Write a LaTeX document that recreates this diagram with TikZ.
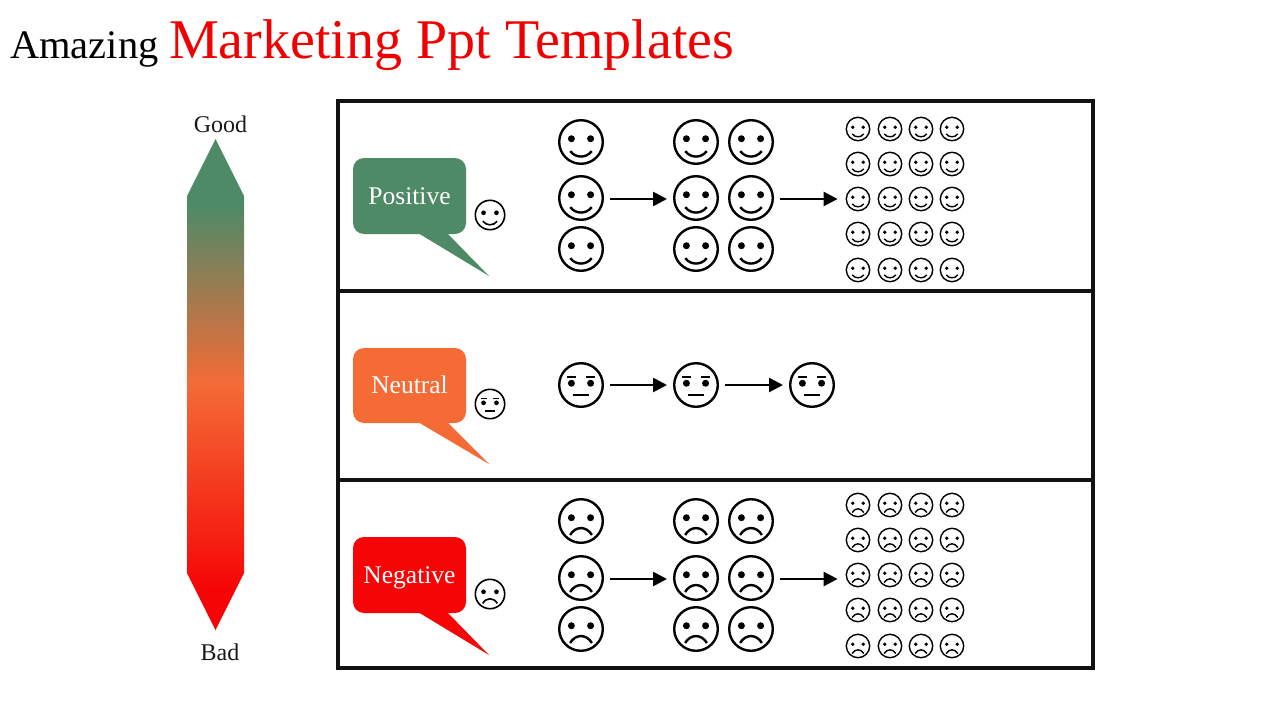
\documentclass[tikz,border=0pt]{standalone}
\usepackage{fontspec}
\setmainfont{Liberation Serif}
\usetikzlibrary{arrows.meta}
\definecolor{posgreen}{RGB}{79,138,102}
\definecolor{neuorange}{RGB}{244,107,54}
\definecolor{negred}{RGB}{245,5,5}
\definecolor{titlered}{RGB}{240,0,0}
\pgfdeclareverticalshading{goodbad}{100bp}{
  color(0bp)=(negred); color(29bp)=(negred); color(50bp)=(neuorange); color(68bp)=(posgreen); color(100bp)=(posgreen)}
\tikzset{
  framebox/.style={draw=black!93,line width=3.2pt,fill=none},
  bubblebox/.style={rounded corners=11pt,minimum width=113pt,text=white,font=\fontsize{25.5}{28}\selectfont,inner sep=0pt,anchor=center,text height=16pt,text depth=0pt},
  facering/.style={circle,draw=black,fill=white,inner sep=0pt},
  flow/.style={draw=black,line width=2.6pt,-{Triangle[length=14pt,width=14pt]},shorten <=6pt,shorten >=6pt},
  scalelabel/.style={font=\fontsize{24}{27}\selectfont,text=black!90,inner sep=0pt,anchor=base},
  titleblack/.style={font=\fontsize{40.5}{45}\selectfont,text=black,inner sep=0pt,anchor=base west},
  titlered/.style={font=\fontsize{56}{60}\selectfont,text=titlered,inner sep=0pt,anchor=base west}
}
% #1 name, #2 x, #3 y, #4 radius, #5 line width
\newcommand{\FaceBase}[5]{%
  \node[facering,line width=#5pt,minimum size={2*#4*1pt}] (#1) at (#2,#3) {};}
\newcommand{\SmileFace}[5]{%
  \FaceBase{#1}{#2}{#3}{#4}{#5}
  \begin{scope}[shift={(#1.center)},x=#4pt,y=-#4pt]
    \fill (-.44,-.15) circle (.16); \fill (.44,-.15) circle (.16);
    \draw[line width=#5pt] (-.49,.42) .. controls (-.25,.75) and (.25,.75) .. (.49,.42);
  \end{scope}}
\newcommand{\FrownFace}[5]{%
  \FaceBase{#1}{#2}{#3}{#4}{#5}
  \begin{scope}[shift={(#1.center)},x=#4pt,y=-#4pt]
    \fill (-.44,-.15) circle (.16); \fill (.44,-.15) circle (.16);
    \draw[line width=#5pt] (-.5,.64) .. controls (-.25,.22) and (.25,.22) .. (.5,.64);
  \end{scope}}
\newcommand{\FlatFace}[5]{%
  \FaceBase{#1}{#2}{#3}{#4}{#5}
  \begin{scope}[shift={(#1.center)},x=#4pt,y=-#4pt]
    \fill (-.44,-.08) circle (.16); \fill (.44,-.08) circle (.16);
    \draw[line width=#5pt] (-.64,-.38) -- (-.22,-.38) (.22,-.38) -- (.64,-.38) (-.35,.47) -- (.35,.47);
  \end{scope}}
\begin{document}
\begin{tikzpicture}[x=1pt,y=-1pt]
\useasboundingbox (0,0) rectangle (1280,720);
\fill[white] (0,0) rectangle (1280,720);
% title
\node[titleblack] (t1) at (10,58) {Amazing};
\node[titlered] (t2) at (169,58) {Marketing Ppt Templates};
% scale arrow
\path[shading=goodbad] (215.5,139) -- (244,196) -- (244,573) -- (215.5,630) -- (187,573) -- (187,196) -- cycle;
\node[scalelabel] (good) at (220.5,132) {Good};
\node[scalelabel] (bad) at (220,660) {Bad};
% frame
\draw[framebox] (338,101) rectangle (1093,668);
\draw[framebox] (338,291) -- (1093,291);
\draw[framebox] (338,480) -- (1093,480);
% bubbles
\fill[posgreen] (418,233) -- (489,276) -- (447,233) -- cycle;
\node[bubblebox,fill=posgreen,minimum height=76pt] (bpos) at (409.5,196) {Positive};
\fill[neuorange] (418,422) -- (489,464) -- (447,422) -- cycle;
\node[bubblebox,fill=neuorange,minimum height=75pt] (bneu) at (409.5,385.5) {Neutral};
\fill[negred] (418,612) -- (489,655) -- (447,612) -- cycle;
\node[bubblebox,fill=negred,minimum height=76pt] (bneg) at (409.5,575) {Negative};
% side faces
\SmileFace{sp}{490}{215}{14.7}{1.6}
\FlatFace{sn}{490}{404}{14.7}{1.6}
\FrownFace{sb}{490}{594}{14.7}{1.6}
% positive big
\SmileFace{pa1}{581}{142}{21.8}{2.4}
\SmileFace{pa2}{581}{198}{21.8}{2.4}
\SmileFace{pa3}{581}{249}{21.8}{2.4}
\SmileFace{pb1}{696}{142}{21.8}{2.4}
\SmileFace{pb2}{696}{198}{21.8}{2.4}
\SmileFace{pb3}{696}{249}{21.8}{2.4}
\SmileFace{pc1}{751}{142}{21.8}{2.4}
\SmileFace{pc2}{751}{198}{21.8}{2.4}
\SmileFace{pc3}{751}{249}{21.8}{2.4}
\foreach \cx [count=\i] in {858,890,921,952}
  \foreach \cy [count=\j] in {129,164,199,234,270}
    {\SmileFace{ps\i\j}{\cx}{\cy}{11.7}{1.4}}
% neutral
\FlatFace{na}{581}{385}{21.8}{2.4}
\FlatFace{nb}{696}{385}{21.8}{2.4}
\FlatFace{nc}{812}{385}{21.8}{2.4}
% negative big
\FrownFace{ga1}{581}{521}{21.8}{2.4}
\FrownFace{ga2}{581}{578}{21.8}{2.4}
\FrownFace{ga3}{581}{629}{21.8}{2.4}
\FrownFace{gb1}{696}{521}{21.8}{2.4}
\FrownFace{gb2}{696}{578}{21.8}{2.4}
\FrownFace{gb3}{696}{629}{21.8}{2.4}
\FrownFace{gc1}{751}{521}{21.8}{2.4}
\FrownFace{gc2}{751}{578}{21.8}{2.4}
\FrownFace{gc3}{751}{629}{21.8}{2.4}
\foreach \cx [count=\i] in {858,890,921,952}
  \foreach \cy [count=\j] in {505,540,575,610,646}
    {\FrownFace{gs\i\j}{\cx}{\cy}{11.7}{1.4}}
% arrows
\coordinate (pos1) at ([yshift=-1pt]pa2.east);
\coordinate (pos2) at ([yshift=-1pt]pc2.east);
\coordinate (neg1) at ([yshift=-1pt]ga2.east);
\coordinate (neg2) at ([yshift=-1pt]gc2.east);
\draw[flow] (pos1) -- (pos1 -| pb2.west);
\draw[flow,shorten >=8pt] (pos2) -- (pos2 -| ps13.west);
\draw[flow] (na) -- (nb);
\draw[flow] (nb) -- (nc);
\draw[flow] (neg1) -- (neg1 -| gb2.west);
\draw[flow,shorten >=8pt] (neg2) -- (neg2 -| gs13.west);
\end{tikzpicture}
\end{document}
